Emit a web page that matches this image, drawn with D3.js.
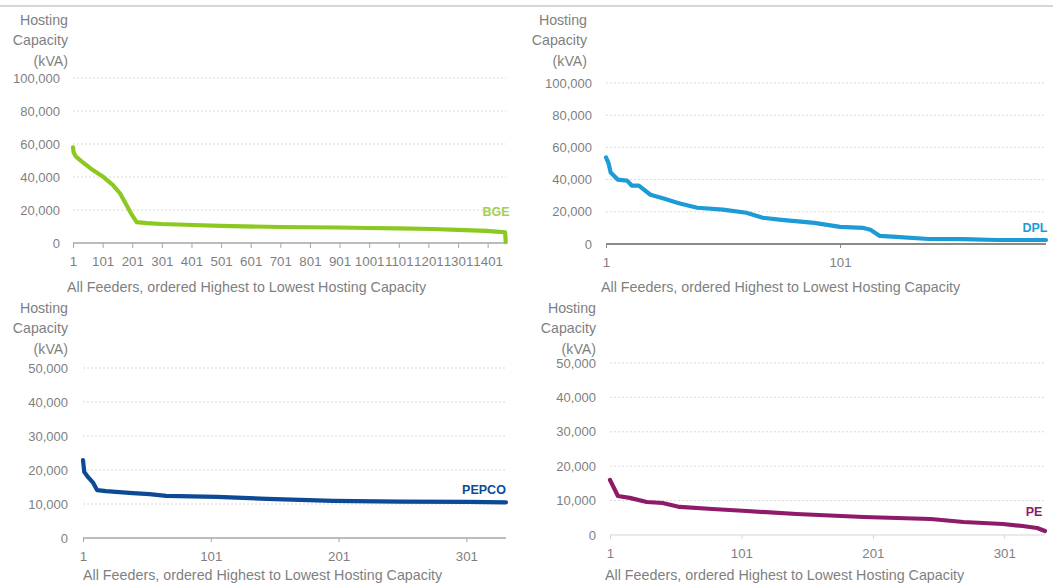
<!DOCTYPE html>
<html><head><meta charset="utf-8">
<script src="https://cdn.jsdelivr.net/npm/d3@7"></script>
<style>
html,body{margin:0;padding:0;background:#fff;}
svg text{font-family:"Liberation Sans",Arial,sans-serif;}
</style></head>
<body>
<svg id="c" width="1053" height="586"></svg>
<script>
// ---- Data ----
const xTitle = "All Feeders, ordered Highest to Lowest Hosting Capacity";
const yTitle = ["Hosting", "Capacity", "(kVA)"];

const bgeIdx = [1, 3, 10, 30, 68, 100, 135, 160, 176, 200, 216, 250, 300, 405, 500, 700, 900, 993, 1100, 1216, 1300, 1398, 1440, 1460, 1462];
const bgeVal = [58000, 55000, 52500, 49500, 44200, 40500, 35200, 30000, 24900, 17000, 12700, 12000, 11500, 10900, 10400, 9700, 9400, 9100, 8900, 8500, 8000, 7300, 6800, 6400, 500];
const bgeTicks = ["1","101","201","301","401","501","601","701","801","901","1001","1101","1201","1301","1401"];
const bgeY = [0, 20000, 40000, 60000, 80000, 100000];

const dplIdx = [1, 2, 3, 6, 10, 12, 15, 20, 26, 30, 33, 40, 51, 61, 68, 76, 90, 101, 111, 114, 118, 125, 139, 154, 168, 189];
const dplVal = [53800, 50600, 44400, 40000, 39400, 36300, 36300, 30600, 28100, 26300, 25000, 22500, 21300, 19400, 16300, 15000, 13100, 10600, 10000, 8800, 5000, 4400, 3100, 3000, 2500, 2500];
const dplTicks = ["1","101"];
const dplY = [0, 20000, 40000, 60000, 80000, 100000];

const pepcoIdx = [1, 2, 5, 9, 12, 19, 40, 53, 66, 106, 145, 197, 249, 302, 332];
const pepcoVal = [22900, 19400, 17900, 16200, 14100, 13800, 13200, 12900, 12400, 12100, 11500, 10900, 10700, 10600, 10500];
const pepcoTicks = ["1","101","201","301"];
const pepcoY = [0, 10000, 20000, 30000, 40000, 50000];

const peIdx = [1, 4, 7, 16, 29, 41, 54, 79, 105, 143, 194, 245, 270, 300, 315, 326, 332];
const peVal = [16000, 13700, 11350, 10800, 9600, 9300, 8150, 7560, 6980, 6100, 5240, 4650, 3780, 3200, 2620, 2040, 1160];
const peTicks = ["1","101","201","301"];
const peY = [0, 10000, 20000, 30000, 40000, 50000];

// ---- Drawing ----
const svg = d3.select("#c");
svg.append("line").attr("x1",0).attr("x2",1053).attr("y1",6).attr("y2",6)
  .attr("stroke","#c8c8c8").attr("stroke-width",1.5);

const grey = "#7f7f7f";
const fmt = d3.format(",");

function panel(o){
  const g = svg.append("g");
  const x = d3.scaleLinear().domain([1, o.n]).range([o.x0, o.x1]);
  const y = d3.scaleLinear().domain([0, o.yMax]).range([o.yBot, o.yTop]);
  g.selectAll(".grid").data(o.yTicks.filter(d=>d>0)).join("line")
    .attr("x1",o.x0).attr("x2",o.x1).attr("y1",d=>y(d)).attr("y2",d=>y(d))
    .attr("stroke","#d9d9d9").attr("stroke-width",1).attr("stroke-dasharray","2,2");
  g.selectAll(".yl").data(o.yTicks).join("text")
    .attr("x",o.yLabX).attr("y",d=>y(d)).attr("dy","0.35em")
    .attr("text-anchor","end").attr("font-size",13).attr("fill",grey).text(d=>fmt(d));
  g.selectAll(".yt").data(yTitle).join("text")
    .attr("x",o.yLabX+o.titleDx).attr("y",(d,i)=>o.titleY+i*20.3).attr("dy","0.35em")
    .attr("text-anchor","end").attr("font-size",14.2).attr("fill",grey).text(d=>d);
  const tickVals = o.xTicks.map(Number);
  const ax = d3.axisBottom(x).tickValues(tickVals).tickSize(o.tickLen).tickFormat(d=>String(d));
  const axg = g.append("g").attr("transform",`translate(0,${o.yBot})`).call(ax);
  axg.select(".domain").attr("stroke",o.axisColor).attr("stroke-width",o.axisW)
    .attr("d",`M${o.x0},0H${o.x1}`);
  axg.selectAll(".tick line").attr("stroke",o.axisColor).attr("stroke-width",1);
  axg.selectAll(".tick text").attr("fill",grey).attr("font-size",13.3)
    .attr("font-family","Liberation Sans, Arial, sans-serif").attr("y",o.tickLabDy).attr("dy","0.35em");
  g.append("text").attr("x",o.xtX).attr("y",o.xtY).attr("dy","0.35em")
    .attr("font-size",14.3).attr("fill",grey).text(xTitle);
  const pts = o.idx.map((d,i)=>[d, o.val[i]]);
  g.append("path").datum(pts)
    .attr("d", d3.line().x(d=>x(d[0])).y(d=>y(d[1])))
    .attr("fill","none").attr("stroke",o.color).attr("stroke-width",4.2)
    .attr("stroke-linejoin","round").attr("stroke-linecap","round");
  g.append("text").attr("x",o.labX).attr("y",o.labY).attr("dy","0.35em")
    .attr("text-anchor","middle").attr("font-size",12.5).attr("font-weight","bold")
    .attr("fill",o.labColor).text(o.name);
}

panel({name:"BGE", idx:bgeIdx, val:bgeVal, n:1463, x0:73, x1:506, yTop:78, yBot:243, yMax:100000,
  yTicks:bgeY, xTicks:bgeTicks, yLabX:60, titleDx:8, titleY:20, xtX:67, xtY:287,
  color:"#8cc920", labColor:"#a3d04a", labX:496, labY:212, axisColor:"#a6a6a6", axisW:1.5, tickLen:5, tickLabDy:18});

panel({name:"DPL", idx:dplIdx, val:dplVal, n:189, x0:606, x1:1046, yTop:83, yBot:244, yMax:100000,
  yTicks:dplY, xTicks:dplTicks, yLabX:592, titleDx:-5, titleY:20, xtX:601, xtY:287,
  color:"#1d9bd7", labColor:"#1d9bd7", labX:1035, labY:228, axisColor:"#8a8a8a", axisW:2, tickLen:4, tickLabDy:18});

panel({name:"PEPCO", idx:pepcoIdx, val:pepcoVal, n:332, x0:83, x1:506, yTop:368, yBot:538, yMax:50000,
  yTicks:pepcoY, xTicks:pepcoTicks, yLabX:68, titleDx:0, titleY:308, xtX:83, xtY:575,
  color:"#0d4a95", labColor:"#0d4a95", labX:484, labY:490, axisColor:"#a6a6a6", axisW:1.5, tickLen:4, tickLabDy:18});

panel({name:"PE", idx:peIdx, val:peVal, n:332, x0:610, x1:1045, yTop:363, yBot:535, yMax:50000,
  yTicks:peY, xTicks:peTicks, yLabX:596, titleDx:0, titleY:308, xtX:605, xtY:575,
  color:"#8e1a6a", labColor:"#8e1a6a", labX:1034, labY:512, axisColor:"#cfd6de", axisW:1, tickLen:4, tickLabDy:18});
</script>
</body></html>
